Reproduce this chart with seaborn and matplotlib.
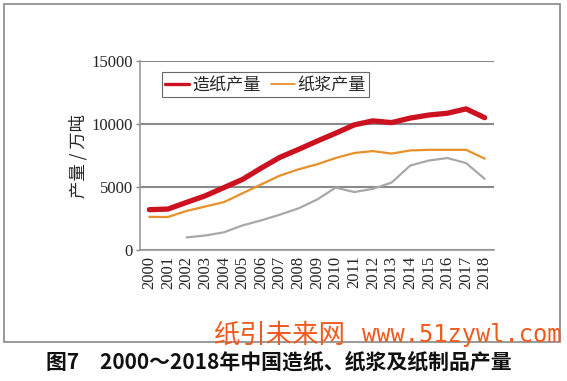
import matplotlib
matplotlib.use("Agg")
import matplotlib.pyplot as plt
import seaborn as sns
import pandas as pd
import numpy as np
from matplotlib.patches import Rectangle

years = [str(y) for y in range(2000, 2019)]
paper = [3200, 3250, 3780, 4300, 4950, 5600, 6500, 7350, 7980, 8640, 9270, 9930, 10250,
         10110, 10470, 10710, 10855, 11200, 10500]
pulp = [2630, 2620, 3100, 3450, 3800, 4500, 5200, 5900, 6400, 6800, 7300, 7700, 7850,
        7650, 7900, 7950, 7950, 7950, 7250]
products = [np.nan, np.nan, 1000, 1150, 1400, 1950, 2350, 2800, 3300, 4000, 4950, 4600,
            4850, 5350, 6700, 7100, 7300, 6900, 5650]
series_names = ["造纸产量", "纸浆产量", "纸制品产量"]
colors = ["#cc1120", "#e8902a", "#a8a8a8"]
widths = [3.8, 1.6, 1.6]
legend_widths = [2.4, 1.3]

df = pd.DataFrame({"year": years, series_names[0]: paper, series_names[1]: pulp,
                   series_names[2]: products})
long = df.melt(id_vars="year", var_name="series", value_name="value")
long["x"] = long["year"].map({y: i for i, y in enumerate(years)})

sns.set_theme(style="white")
plt.rcParams['font.family'] = ['Liberation Serif', 'Noto Sans CJK SC', 'DejaVu Sans']

fig = plt.figure(figsize=(5.67, 3.81), dpi=100)
fig.patch.set_facecolor("white")
ax = fig.add_axes([140/567, 1-250/381, 354/567, 189/381])

for name, c, lw in zip(series_names, colors, widths):
    sub = long[long["series"] == name]
    sns.lineplot(data=sub, x="x", y="value", color=c, lw=lw, ax=ax,
                 label=name if name != series_names[2] else None, zorder=3)

ax.set_xlim(-0.5, len(years) - 0.5)
ax.set_ylim(0, 15000)
ax.set_yticks([0, 5000, 10000, 15000])
ax.set_yticklabels(["0", "5000", "10000", "15000"], fontsize=12, family="Liberation Serif")
ax.set_xticks(range(len(years)))
ax.set_xticklabels(years, rotation=90, fontsize=12, family="Liberation Serif")
ax.set_xticks(np.arange(-0.5, len(years), 1), minor=True)
ax.tick_params(axis="x", which="major", length=0, pad=4)
ax.tick_params(axis="x", which="minor", length=4, color="#888888", width=1, direction="out")
ax.tick_params(axis="y", length=3, color="#888888", width=1, left=True, pad=2)
ax.grid(axis="y", color="#8a8a8a", lw=1.5)
ax.set_axisbelow(True)
for s in ["top", "right"]:
    ax.spines[s].set_visible(False)
for s in ["left", "bottom"]:
    ax.spines[s].set_color("#999999")
    ax.spines[s].set_linewidth(1.2)
ax.set_xlabel("")
ax.set_ylabel("产量 / 万吨", fontsize=12.5, family=["Noto Sans CJK SC"], labelpad=3)

leg = ax.legend(loc="upper left", bbox_to_anchor=(0.062, 0.94), ncol=2, frameon=True,
                fancybox=False, edgecolor="#444444", handlelength=1.4,
                columnspacing=0.6, handletextpad=0.15, borderpad=0.2, borderaxespad=0,
                prop={"family": "Noto Sans CJK SC", "size": 12.3})
leg.get_frame().set_linewidth(0.8)
for h, lw in zip(leg.get_lines(), legend_widths):
    h.set_linewidth(lw)

fig.patches.append(Rectangle((4/567, 1-342/381), 556/567, 338/381, transform=fig.transFigure,
                             fill=False, edgecolor="#888888", lw=1.2))
fig.text(214/567, 1-335/381, "纸引未来网", color="#f05a1e", fontsize=19,
         family=["Noto Sans CJK SC"], va="center", ha="left")
fig.text(362/567, 1-335/381, "www.51zywl.com", color="#f05a1e", fontsize=17,
         family=["DejaVu Sans Mono"], va="center", ha="left")
fig.text(46/567, 1-362/381, "图7　2000～2018年中国造纸、纸浆及纸制品产量", color="#111111",
         fontsize=15, fontweight="bold", family=["Noto Sans CJK SC"], va="center", ha="left")

fig.savefig("out.png", dpi=100, facecolor="white")
